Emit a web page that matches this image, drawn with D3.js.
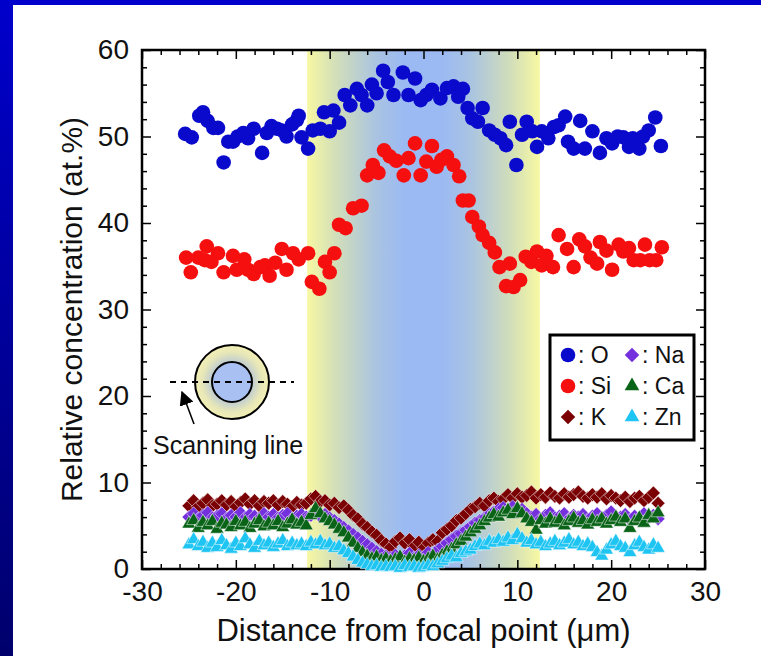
<!DOCTYPE html>
<html>
<head>
<meta charset="utf-8">
<script src="https://cdn.jsdelivr.net/npm/d3@7"></script>
<style>
  body { margin: 0; background: #fff; }
  svg { display: block; font-family: "Liberation Sans", Arial, Helvetica, sans-serif; }
</style>
</head>
<body>
<div id="chart"></div>
<script>
// O and Si scans, read point by point: [distance (um), at.%]
const oxygen = [[-25.4,50.3],[-24.7,49.9],[-23.9,52.4],[-23.5,52.8],[-23.0,51.8],[-22.4,51.0],[-21.9,51.0],[-21.3,47.0],
  [-20.8,49.4],[-20.3,49.4],[-19.8,50.0],[-19.2,50.4],[-18.7,49.8],[-18.1,50.9],[-17.2,48.1],[-16.7,50.4],[-16.2,51.2],
  [-15.6,50.9],[-15.1,50.7],[-14.6,50.0],[-14.0,51.4],[-13.5,51.9],[-13.3,52.4],[-13.0,49.9],[-12.3,48.6],[-11.8,50.7],
  [-11.0,50.9],[-10.6,52.8],[-10.0,50.6],[-9.6,53.0],[-9.0,51.6],[-8.4,54.8],[-7.8,53.6],[-7.1,55.5],[-6.6,54.8],
  [-6.0,53.6],[-5.5,56.0],[-5.0,55.0],[-4.3,57.6],[-3.8,56.3],[-3.2,54.8],[-2.2,57.4],[-1.6,54.8],[-0.9,56.7],
  [-0.3,54.2],[0.3,54.8],[0.9,55.4],[1.8,54.4],[2.5,55.6],[3.2,55.8],[3.7,54.6],[4.2,55.5],[4.7,53.3],[5.2,52.1],
  [5.8,51.7],[6.3,53.3],[7.0,50.7],[7.6,50.2],[8.2,49.8],[8.8,49.0],[9.2,51.7],[9.9,46.7],[10.5,50.2],[11.0,51.7],
  [11.6,50.6],[12.1,48.8],[12.6,50.6],[13.3,49.8],[13.9,51.1],[14.4,51.3],[15.1,52.3],[15.4,49.4],[16.0,48.6],
  [16.7,51.8],[17.2,48.6],[18.0,50.6],[18.8,48.1],[19.5,49.8],[20.1,49.2],[20.7,50.0],[21.3,49.9],[21.9,48.8],
  [22.3,49.8],[23.0,48.6],[23.4,50.0],[24.0,50.7],[24.7,52.2],[25.3,48.9]];

const silicon = [[-25.3,36.0],[-24.8,34.3],[-24.0,36.0],[-23.3,35.7],[-23.1,37.3],[-22.6,35.5],[-21.9,36.5],[-21.3,34.3],
  [-20.3,36.2],[-19.9,34.6],[-19.1,35.8],[-18.7,34.6],[-18.1,34.1],[-17.4,34.9],[-16.9,35.1],[-16.4,33.9],[-15.8,35.4],
  [-15.1,37.0],[-14.6,34.6],[-13.9,36.5],[-13.3,35.8],[-12.3,36.5],[-11.9,33.2],[-11.1,32.4],[-10.5,35.5],[-10.0,34.3],
  [-9.5,36.5],[-9.0,39.8],[-8.3,39.4],[-7.5,41.7],[-6.6,42.0],[-6.0,45.5],[-5.4,46.7],[-4.8,45.8],[-4.2,48.4],
  [-3.6,47.7],[-2.9,47.2],[-2.1,45.5],[-1.6,47.5],[-0.9,49.2],[-0.3,45.5],[0.3,47.1],[0.9,48.9],[1.4,46.5],
  [1.9,47.3],[2.5,47.7],[3.2,46.7],[3.8,45.4],[4.2,42.6],[4.8,42.6],[5.2,40.7],[5.9,39.6],[6.3,38.6],[7.0,37.7],
  [7.6,36.6],[8.1,34.9],[8.8,32.7],[9.2,35.3],[9.6,32.6],[10.3,33.4],[10.9,36.1],[11.5,35.5],[12.1,36.7],[12.6,35.1],
  [13.1,36.2],[13.8,34.9],[14.4,38.6],[15.3,37.0],[16.0,34.9],[16.6,38.1],[17.2,37.3],[17.8,36.0],[18.5,35.3],
  [18.8,37.8],[19.5,36.8],[20.1,34.6],[20.8,37.5],[21.3,36.7],[21.9,37.1],[22.4,35.7],[23.1,35.7],[23.6,37.5],
  [24.1,35.7],[24.8,35.7],[25.4,37.2]];

// minor elements share one scan grid (um)
const distance = [-25,-24.5,-24,-23.5,-23,-22.5,-22,-21.5,-21,-20.5,-20,-19.5,-19,-18.5,-18,-17.5,-17,-16.5,-16,-15.5,
  -15,-14.5,-14,-13.5,-13,-12.5,-12,-11.5,-11,-10.5,-10,-9.5,-9,-8.5,-8,-7.5,-7,-6.5,-6,-5.5,-5,-4.5,-4,-3.5,-3,-2.5,
  -2,-1.5,-1,-0.5,0,0.5,1,1.5,2,2.5,3,3.5,4,4.5,5,5.5,6,6.5,7,7.5,8,8.5,9,9.5,10,10.5,11,11.5,12,12.5,13,13.5,14,14.5,
  15,15.5,16,16.5,17,17.5,18,18.5,19,19.5,20,20.5,21,21.5,22,22.5,23,23.5,24,24.5,25];

const potassium = [7.3,7.9,7.2,7.6,8.0,7.3,7.5,7.9,7.4,7.8,7.2,7.7,8.1,7.5,7.9,7.3,7.8,7.6,7.9,7.4,7.8,7.5,7.2,7.7,7.4,7.6,
  8.1,8.4,7.8,7.9,7.4,7.6,7.1,7.3,
  6.8,6.2,5.8,5.2,4.8,4.3,3.9,3.3,2.9,2.5,
  3.2,3.6,3.0,3.4,2.6,3.1,2.4,3.0,3.4,3.2,
  4.2,4.6,5.0,5.6,5.9,6.4,6.9,7.2,7.6,7.3,7.9,8.2,7.8,8.1,
  8.6,8.2,8.7,8.3,8.5,8.9,8.2,8.6,8.3,8.8,8.4,8.2,8.7,8.3,8.6,8.9,8.4,8.2,8.6,8.3,8.7,8.1,8.5,8.2,7.9,8.3,7.8,8.2,8.4,7.9,8.3,8.8,7.6];

const sodium = [6.0,6.4,5.8,6.2,6.5,5.9,6.1,6.4,5.8,6.2,6.0,6.5,5.9,6.3,6.1,5.8,6.4,6.0,6.3,5.9,6.2,6.4,5.8,6.1,6.3,6.0,
  6.2,6.6,6.1,6.3,5.9,5.6,5.2,4.8,
  4.4,4.0,3.6,3.2,2.8,2.4,2.0,1.7,1.5,1.3,
  1.6,1.2,1.5,1.8,1.3,1.6,1.4,1.9,1.6,2.2,
  2.6,3.0,3.4,3.8,4.1,4.5,4.9,5.3,5.6,5.9,6.3,6.6,6.9,7.1,
  6.8,7.2,6.6,6.9,6.4,6.0,6.3,5.8,6.2,6.5,5.9,6.1,6.4,5.8,6.2,6.0,6.3,5.7,6.1,6.4,5.9,6.2,6.6,5.8,6.0,6.3,5.7,6.1,5.9,6.4,6.0,6.2,5.8];

const calcium = [5.2,5.6,4.7,5.4,5.0,5.5,4.6,5.3,5.1,4.8,5.5,5.0,5.4,4.7,5.2,5.6,4.9,5.3,5.0,5.5,4.8,5.2,5.7,5.1,5.4,5.0,
  6.2,7.0,6.4,5.8,5.5,5.1,4.6,4.2,
  3.6,3.0,2.4,1.9,1.5,1.2,1.4,1.0,1.2,0.9,
  1.1,1.4,0.8,1.2,1.0,1.3,0.9,1.2,1.5,1.1,
  1.6,2.0,2.3,2.8,3.2,3.7,4.2,4.6,5.0,5.5,5.9,6.3,6.0,6.5,
  6.8,6.3,7.0,6.4,5.8,5.4,4.5,5.6,5.2,5.8,5.3,5.7,5.0,5.5,5.9,5.3,5.6,5.1,5.7,5.4,5.8,5.2,5.6,6.0,5.4,5.8,4.7,5.5,5.9,5.3,6.2,5.8,6.5];

const zinc = [2.8,3.4,2.6,3.1,2.4,3.0,2.5,3.3,2.7,2.3,3.0,2.6,3.5,2.8,2.4,3.2,2.7,3.0,2.5,2.9,3.3,2.6,3.0,2.7,2.9,2.6,
  3.1,2.8,3.2,2.7,2.9,2.4,2.6,2.1,
  1.8,1.4,1.0,0.7,0.5,0.3,0.4,0.2,0.3,0.2,
  0.3,0.1,0.4,0.2,0.3,0.1,0.2,0.4,0.3,0.6,
  0.9,1.2,1.5,1.3,1.8,2.0,2.2,2.6,2.9,2.7,3.2,3.0,3.4,3.1,
  3.6,3.3,4.0,3.5,3.0,3.3,2.8,3.1,2.6,2.9,3.2,2.7,3.0,3.4,2.8,3.1,2.6,2.9,2.5,1.9,1.5,2.2,2.8,3.2,2.6,2.4,1.9,2.7,3.1,2.5,2.2,2.8,2.4];

const xTicks = [-30, -20, -10, 0, 10, 20, 30];
const yTicks = [0, 10, 20, 30, 40, 50, 60];
const focusRange = [-12.4, 12.4];

const W = 761, H = 656;
const margin = {left: 142, right: 56, top: 50, bottom: 87};

const svg = d3.select('#chart').append('svg')
  .attr('width', W)
  .attr('height', H);

const defs = svg.append('defs');

const bgGrad = defs.append('linearGradient')
  .attr('id', 'bg').attr('x1', 0).attr('y1', 0).attr('x2', 0).attr('y2', 1);
bgGrad.append('stop').attr('offset', '0%').attr('stop-color', '#0000cc');
bgGrad.append('stop').attr('offset', '100%').attr('stop-color', '#00006c');

const bandGrad = defs.append('linearGradient')
  .attr('id', 'band').attr('x1', 0).attr('y1', 0).attr('x2', 1).attr('y2', 0);
[[0, '#f7f8a2'], [0.12, '#d3dfb8'], [0.3, '#a9c3e2'], [0.42, '#9bbaf3'], [0.58, '#9bbaf3'],
 [0.7, '#a9c3e2'], [0.88, '#d3dfb8'], [1, '#f7f8a2']].forEach(([o, c]) => {
  bandGrad.append('stop').attr('offset', o).attr('stop-color', c);
});

const ringGrad = defs.append('radialGradient').attr('id', 'ring');
ringGrad.append('stop').attr('offset', '50%').attr('stop-color', '#b9c8d6');
ringGrad.append('stop').attr('offset', '80%').attr('stop-color', '#e6e6b8');
ringGrad.append('stop').attr('offset', '100%').attr('stop-color', '#f4f0b4');

// slide background
svg.append('rect').attr('width', W).attr('height', H).attr('fill', 'url(#bg)');
svg.append('rect').attr('x', 13).attr('y', 5).attr('width', W - 13).attr('height', H - 5).attr('fill', '#fff');

const x = d3.scaleLinear().domain([-30, 30]).range([margin.left, W - margin.right]);
const y = d3.scaleLinear().domain([0, 60]).range([H - margin.bottom, margin.top]);

// focused region band
svg.append('rect')
  .attr('x', x(focusRange[0]))
  .attr('y', y(60))
  .attr('width', x(focusRange[1]) - x(focusRange[0]))
  .attr('height', y(0) - y(60))
  .attr('fill', 'url(#band)');

// ticks, all pointing inward
function tickAxis(axis, pos, values, size, labels) {
  const g = svg.append('g')
    .attr('transform', pos)
    .call(axis.tickValues(values).tickSize(-size)
      .tickPadding(labels ? 12 : 0)
      .tickFormat(labels ? d => String(d) : ''));
  g.select('.domain').remove();
  g.selectAll('line').attr('stroke', '#000').attr('stroke-width', 1.5);
  g.selectAll('text').style('font-size', '28px').attr('fill', '#111');
  return g;
}
const minorX = d3.range(-30, 31, 2).filter(v => v % 10 !== 0);
const minorY = d3.range(0, 61, 2).filter(v => v % 10 !== 0);

tickAxis(d3.axisBottom(x), `translate(0,${y(0)})`, xTicks, 9, true)
  .selectAll('text').attr('dy', '0.71em').attr('y', 12);
tickAxis(d3.axisBottom(x), `translate(0,${y(0)})`, minorX, 5, false);
tickAxis(d3.axisTop(x), `translate(0,${y(60)})`, xTicks, 9, false);
tickAxis(d3.axisTop(x), `translate(0,${y(60)})`, minorX, 5, false);
tickAxis(d3.axisLeft(y), `translate(${x(-30)},0)`, yTicks, 9, true)
  .selectAll('text').attr('x', -13);
tickAxis(d3.axisLeft(y), `translate(${x(-30)},0)`, minorY, 5, false);
tickAxis(d3.axisRight(y), `translate(${x(30)},0)`, yTicks, 9, false);
tickAxis(d3.axisRight(y), `translate(${x(30)},0)`, minorY, 5, false);

// frame
svg.append('rect')
  .attr('x', x(-30)).attr('y', y(60))
  .attr('width', x(30) - x(-30)).attr('height', y(0) - y(60))
  .attr('fill', 'none').attr('stroke', '#000').attr('stroke-width', 2.5);

// axis titles
svg.append('text')
  .attr('x', (x(-30) + x(30)) / 2)
  .attr('y', 641)
  .attr('text-anchor', 'middle')
  .style('font-size', '31px')
  .attr('fill', '#111')
  .text('Distance from focal point (\u03bcm)');

svg.append('text')
  .attr('transform', `translate(82,${(y(0) + y(60)) / 2}) rotate(-90)`)
  .attr('text-anchor', 'middle')
  .style('font-size', '30px')
  .attr('fill', '#111')
  .text('Relative concentration (at.%)');

// inset: fibre cross-section and scanning line
const inset = svg.append('g').attr('transform', 'translate(232,382)');
inset.append('circle').attr('r', 37).attr('fill', 'url(#ring)').attr('stroke', '#000').attr('stroke-width', 2);
inset.append('circle').attr('r', 20).attr('fill', '#a8c0f2').attr('stroke', '#000').attr('stroke-width', 2);
inset.append('line').attr('x1', -62).attr('x2', 62).attr('y1', 0).attr('y2', 0)
  .attr('stroke', '#000').attr('stroke-width', 1.8).attr('stroke-dasharray', '6,5');
defs.append('marker').attr('id', 'arrow')
  .attr('viewBox', '0 0 10 10').attr('refX', 9).attr('refY', 5)
  .attr('markerWidth', 9).attr('markerHeight', 9).attr('orient', 'auto')
  .append('path').attr('d', 'M0,0 L10,5 L0,10 Z').attr('fill', '#000');
inset.append('line').attr('x1', -38).attr('y1', 42).attr('x2', -50).attr('y2', 10)
  .attr('stroke', '#000').attr('stroke-width', 1.6).attr('marker-end', 'url(#arrow)');
svg.append('text')
  .attr('x', 153).attr('y', 454)
  .style('font-size', '25px')
  .attr('fill', '#111')
  .text('Scanning line');

// series
const series = [
  {name: 'O',  shape: 'circle',   color: '#0a0acc', pts: oxygen},
  {name: 'Si', shape: 'circle',   color: '#f50f0f', pts: silicon},
  {name: 'K',  shape: 'diamond',  color: '#7a0004', pts: distance.map((d, i) => [d, potassium[i]])},
  {name: 'Na', shape: 'diamond',  color: '#7430dc', pts: distance.map((d, i) => [d, sodium[i]])},
  {name: 'Ca', shape: 'triangle', color: '#0a6418', pts: distance.map((d, i) => [d, calcium[i]])},
  {name: 'Zn', shape: 'triangle', color: '#1ec4f2', pts: distance.map((d, i) => [d, zinc[i]])}
];

const symbols = {
  circle: d3.symbol().type(d3.symbolCircle).size(168)(),
  diamond: d3.symbol().type(d3.symbolSquare).size(96)(),
  triangle: d3.symbol().type(d3.symbolTriangle).size(84)()
};
function place(shape, px, py) {
  return shape === 'diamond'
    ? `translate(${px},${py}) rotate(45)`
    : `translate(${px},${py})`;
}

series.forEach(s => {
  svg.append('g').selectAll('path')
    .data(s.pts)
    .join('path')
    .attr('d', symbols[s.shape])
    .attr('transform', d => place(s.shape, x(d[0]), y(d[1])))
    .attr('fill', s.color)
    .attr('stroke', s.shape === 'circle' ? 'none' : '#fff')
    .attr('stroke-width', 0.5);
});

// legend
const lg = svg.append('g').attr('transform', 'translate(550,335)');
lg.append('rect').attr('width', 144).attr('height', 105)
  .attr('fill', '#fff').attr('stroke', '#000').attr('stroke-width', 3);
const legendOrder = ['O', 'Na', 'Si', 'Ca', 'K', 'Zn'];
legendOrder.forEach((name, i) => {
  const s = series.find(d => d.name === name);
  const col = i % 2, row = Math.floor(i / 2);
  const gx = 18 + col * 64, gy = 20 + row * 31;
  const item = lg.append('g');
  item.append('path')
    .attr('d', symbols[s.shape])
    .attr('transform', place(s.shape, gx, gy) + (s.shape === 'circle' ? '' : ' scale(1.05)'))
    .attr('fill', s.color);
  item.append('text')
    .attr('x', gx + 10).attr('y', gy)
    .attr('dy', '0.36em')
    .style('font-size', '23px')
    .attr('fill', '#111')
    .text(': ' + name);
});
</script>
</body>
</html>
